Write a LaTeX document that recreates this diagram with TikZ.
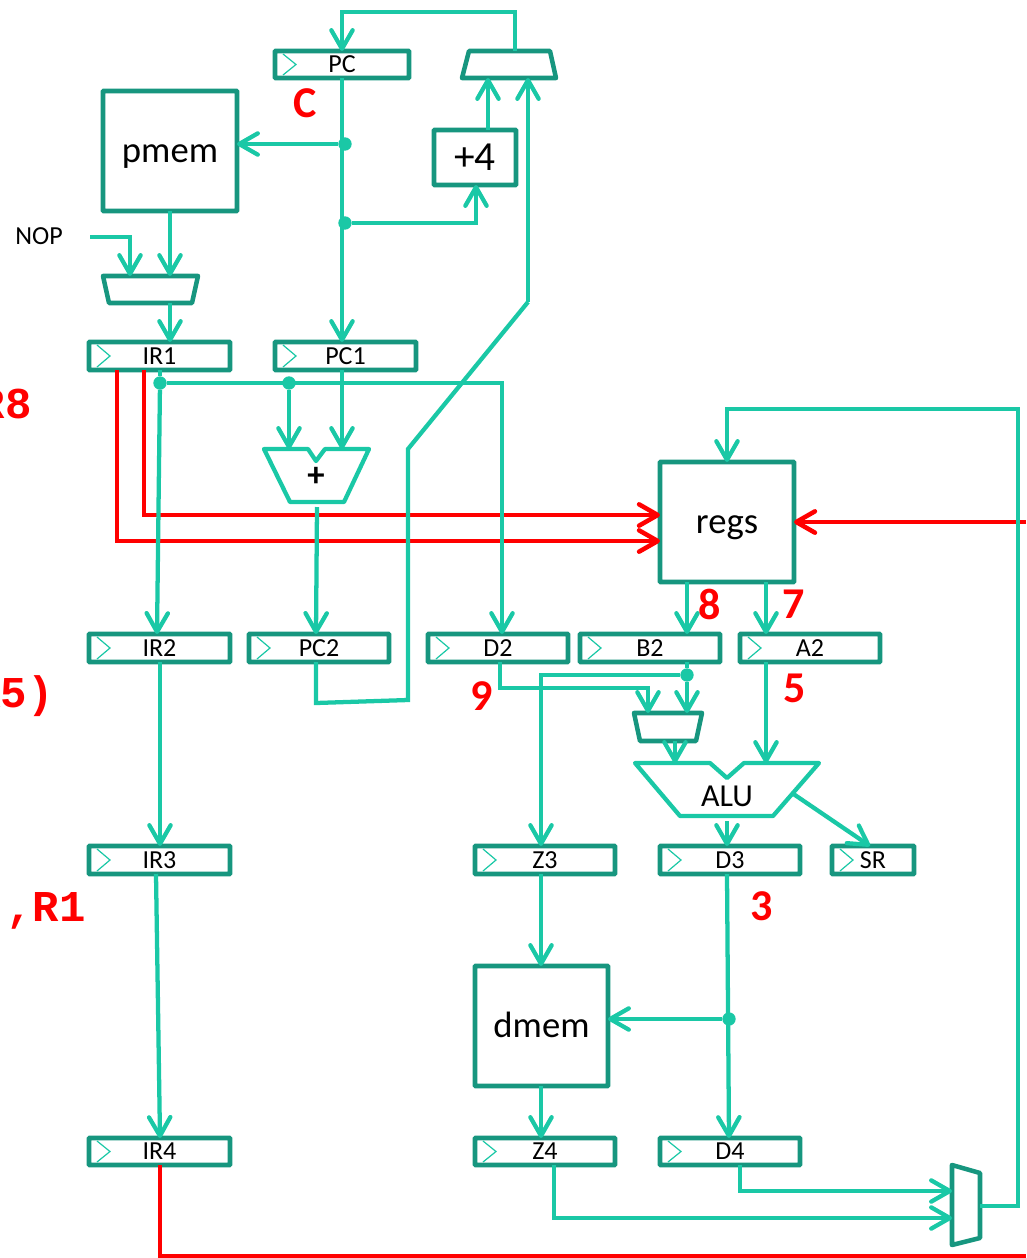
\documentclass[tikz,border=0pt]{standalone}
\usepackage{fontspec}
\setmainfont{Carlito}
\newfontfamily\monob[BoldFont={Liberation Mono Bold}]{Liberation Mono}
\usetikzlibrary{arrows.meta}
\definecolor{wire}{HTML}{1AC8A6}
\definecolor{frame}{HTML}{17967F}
\definecolor{sig}{HTML}{FF0000}
\newcommand{\regbox}[6]{%
  \node[regnode,minimum width={(#4-#2)*0.75pt},minimum height={(#5-#3)*0.75pt}] (#1) at ({(#2+#4)/2},{(#3+#5)/2}) {#6};
  \draw[clockmark] (#2+8,#3+3) -- (#2+21,{(#3+#5)/2}) -- (#2+8,#5-3);}
\newcommand{\blockbox}[7]{%
  \node[blocknode,minimum width={(#4-#2)*0.75pt},minimum height={(#5-#3)*0.75pt},text height=#7,text depth=0pt] (#1) at ({(#2+#4)/2},{(#3+#5)/2}) {#6};}
\newcommand{\ghost}[5]{%
  \node[ghostnode,minimum width={(#4-#2)*0.75pt},minimum height={(#5-#3)*0.75pt}] (#1) at ({(#2+#4)/2},{(#3+#5)/2}) {};}
\tikzset{
  x=0.75pt,y=-0.75pt,
  regnode/.style={draw=frame,line width=3.4pt,fill=white,inner sep=0pt,outer sep=0pt,font=\fontsize{19.5}{19.5}\selectfont,rounded corners=0.5pt,text depth=0pt},
  blocknode/.style={draw=frame,line width=3.4pt,fill=white,inner sep=0pt,outer sep=0pt,font=\fontsize{27.5}{27.5}\selectfont,rounded corners=0.5pt},
  ghostnode/.style={inner sep=0pt,outer sep=0pt},
  clockmark/.style={wire,line width=0.9pt},
  muxshape/.style={draw=frame,line width=3.4pt,line join=round},
  alushape/.style={draw=wire,line width=3.2pt,line join=round},
  tip/.style={-{Straight Barb[length=14pt,width=16pt,round]}},
  link/.style={wire,line width=3.2pt,line join=miter},
  hot/.style={sig,line width=3.4pt,line join=miter},
  dot/.style={circle,fill=wire,minimum size=10pt,inner sep=0pt,outer sep=0pt},
  num/.style={sig,font=\fontsize{33}{33}\selectfont\bfseries,inner sep=0pt},
  code/.style={sig,font=\fontsize{33}{33}\selectfont\monob\bfseries,inner sep=0pt,anchor=east},
  plain/.style={inner sep=0pt,outer sep=0pt},
}
\begin{document}
\begin{tikzpicture}
\useasboundingbox (0,0) rectangle (1026,1258);
\clip (0,0) rectangle (1026,1258);

% blocks
\regbox{PC}{275}{51}{409}{78}{PC}
\regbox{IRa}{89}{342}{230}{370}{IR1}
\regbox{PCa}{275}{342}{416}{370}{PC1}
\regbox{IRb}{89}{634}{230}{662}{IR2}
\regbox{PCb}{249}{634}{389}{662}{PC2}
\regbox{Db}{428}{634}{568}{662}{D2}
\regbox{Bb}{580}{634}{720}{662}{B2}
\regbox{Ab}{740}{634}{880}{662}{A2}
\regbox{IRc}{89}{846}{230}{874}{IR3}
\regbox{Zc}{475}{846}{615}{874}{Z3}
\regbox{Dc}{660}{846}{800}{874}{D3}
\regbox{SR}{832}{846}{914}{874}{SR}
\regbox{IRd}{89}{1138}{230}{1165}{IR4}
\regbox{Zd}{475}{1138}{615}{1165}{Z4}
\regbox{Dd}{660}{1138}{800}{1165}{D4}
\blockbox{pmem}{103}{91}{237}{211}{pmem}{16.5pt}
\blockbox{plusfour}{434}{130}{516}{185}{\fontsize{31}{31}\selectfont +4}{20pt}
\blockbox{regs}{660}{462}{794}{582}{regs}{16.5pt}
\blockbox{dmem}{475}{966}{608}{1086}{dmem}{16.5pt}

% muxes and adders
\draw[muxshape] (469,51) -- (550,51) -- (556,78) -- (462,78) -- cycle;
\ghost{muxa}{462}{51}{556}{78}
\draw[muxshape] (103,276) -- (198,276) -- (192,303) -- (109,303) -- cycle;
\ghost{muxb}{103}{276}{198}{303}
\draw[muxshape] (634,713) -- (702,713) -- (696,741) -- (640,741) -- cycle;
\ghost{muxc}{634}{713}{702}{741}
\draw[muxshape] (952,1165) -- (980,1173) -- (980,1238) -- (952,1245) -- cycle;
\ghost{muxd}{952}{1165}{980}{1245}
\draw[alushape] (264,449) -- (308,449) -- (316,461) -- (325,449) -- (369,449) -- (344,502) -- (290,502) -- cycle;
\node[plain,font=\fontsize{26}{26}\selectfont\bfseries] (adder) at (316,477) {+};
\draw[alushape] (635,763) -- (710,763) -- (727,778) -- (744,763) -- (819,763) -- (773,816) -- (680,816) -- cycle;
\node[plain,font=\fontsize{24}{24}\selectfont] (alu) at (727,796) {ALU};

\node[plain,font=\fontsize{19.5}{19.5}\selectfont] (nop) at (39,236) {NOP};
\coordinate (nopout) at (90,237);
\coordinate (bendtop) at (515,12);
\coordinate (topleft) at (342,12);
\coordinate (diagtop) at (528,302);
\coordinate (diagbot) at (408,449);
\coordinate (pcdown) at (408,700);
\coordinate (pcleft) at (316,703);
\coordinate (redright) at (1026,522);
\coordinate (redcorner) at (160,1256);
\coordinate (redend) at (1026,1256);
\coordinate (fbr) at (1018,1206);
\coordinate (fbt) at (1018,409);
\coordinate (fbl) at (727,409);

% red wires
\begin{scope}[hot]
\draw[tip] (144,0 |- IRa.south) |- (regs.west |- 0,515);
\draw[tip] (117,0 |- IRa.south) |- (regs.west |- 0,541);
\draw[tip] (redright) -- (regs.east |- redright);
\draw (160,0 |- IRd.south) -- (redcorner) -- (redend);
\end{scope}

% junctions
\node[dot] (ja) at (345,144) {};
\node[dot] (jb) at (345,223) {};
\node[dot] (jc) at (160,383) {};
\node[dot] (jd) at (289,383) {};
\node[dot] (je) at (687,675) {};
\node[dot] (jf) at (729,1019) {};

% teal wires
\begin{scope}[link]
\draw[tip] (515,0 |- muxa.north) -- (bendtop) -- (topleft) -- (PC.north -| topleft);
\draw[tip] (342,0 |- PC.south) -- (342,0 |- PCa.north);
\draw[tip] (ja) -- (pmem.east |- ja);
\draw[tip] (jb) -| (476,0 |- plusfour.south);
\draw[tip] (488,0 |- plusfour.north) -- (488,0 |- muxa.south);
\draw[tip] (diagtop) -- (528,0 |- muxa.south);
\draw (diagtop) -- (diagbot) -- (pcdown) -- (pcleft) -- (316,0 |- PCb.south);
\draw[tip] (170,0 |- pmem.south) -- (170,0 |- muxb.north);
\draw[tip] (nopout) -| (130,0 |- muxb.north);
\draw[tip] (170,0 |- muxb.south) -- (170,0 |- IRa.north);
\draw (160,0 |- IRa.south) -- (jc);
\draw[tip] (jc) -- (157,0 |- IRb.north);
\draw[tip] (jc) -| (502,0 |- Db.north);
\draw[tip] (jd) -- (jd |- 0,449);
\draw[tip] (342,0 |- PCa.south) -- (342,449);
\draw[tip] (317,507) -- (316,0 |- PCb.north);
\draw[tip] (160,0 |- IRb.south) -- (160,0 |- IRc.north);
\draw[tip] (156,0 |- IRc.south) -- (160,0 |- IRd.north);
\draw[tip] (muxd.east |- fbr) -- (fbr) -- (fbt) -- (fbl) -- (fbl |- regs.north);
\draw[tip] (687,0 |- regs.south) -- (687,0 |- Bb.north);
\draw[tip] (766,0 |- regs.south) -- (766,0 |- Ab.north);
\draw[tip] (766,0 |- Ab.south) -- (766,763);
\draw (687,0 |- Bb.south) -- (je);
\draw[tip] (je) -- (je |- muxc.north);
\draw[tip] (je) -| (541,0 |- Zc.north);
\draw[tip] (500,0 |- Db.south) |- (648,688) -- (648,0 |- muxc.north);
\draw[tip] (675,0 |- muxc.south) -- (675,763);
\draw[tip] (727,821) -- (727,0 |- Dc.north);
\draw[tip] (792,793) -- (870,0 |- SR.north);
\draw[tip] (541,0 |- Zc.south) -- (541,0 |- dmem.north);
\draw[tip] (727,0 |- Dc.south) -- (729,0 |- Dd.north);
\draw[tip] (jf) -- (dmem.east |- jf);
\draw[tip] (541,0 |- dmem.south) -- (541,0 |- Zd.north);
\draw[tip] (554,0 |- Zd.south) |- (muxd.west |- 0,1218);
\draw[tip] (740,0 |- Dd.south) |- (muxd.west |- 0,1191);
\end{scope}

% red labels
\node[num] (lc) at (305,103) {C};
\node[num] (l8) at (710,604) {8};
\node[num] (l7) at (794,604) {7};
\node[num] (l5) at (795,688) {5};
\node[num] (l9) at (482,696) {9};
\node[num] (l3) at (762,906) {3};
\node[code] (ca) at (32,404) {R8};
\node[code] (cb) at (54,696) {R5)};
\node[code] (cc) at (86,911) {,R1};
\end{tikzpicture}
\end{document}
